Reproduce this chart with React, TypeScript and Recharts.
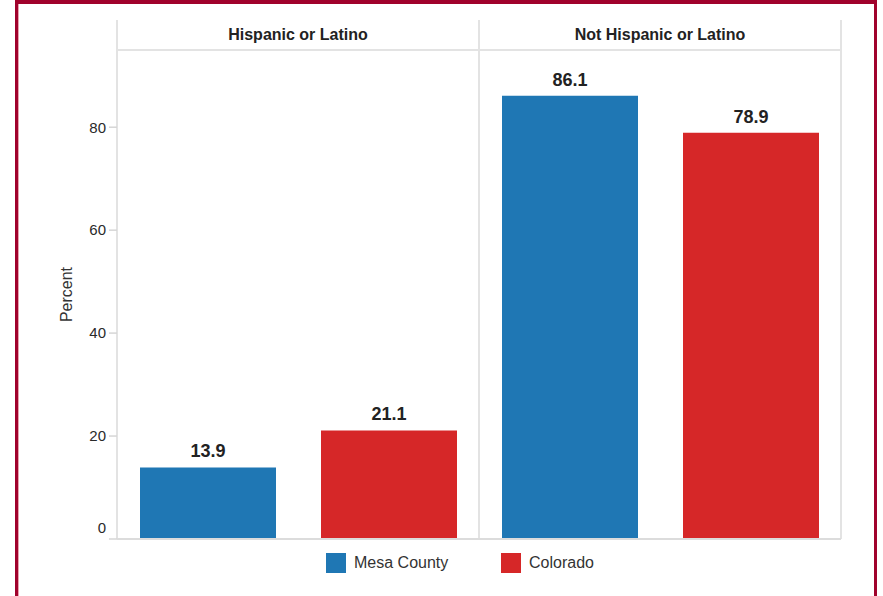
import React from 'react';
import * as R from 'recharts';

const { BarChart, Bar, XAxis, YAxis, LabelList, Legend } = R as any;

const categories = ['Hispanic or Latino', 'Not Hispanic or Latino'];
const mesaCounty = [13.9, 86.1];
const colorado = [21.1, 78.9];
const yTicks = [0, 20, 40, 60, 80];
const seriesNames = ['Mesa County', 'Colorado'];
const seriesColors = ['#1f77b4', '#d62728'];

const data = categories.map((c, i) => ({ category: c, mesa: mesaCounty[i], colorado: colorado[i] }));

const FONT = '"Liberation Sans", Arial, sans-serif';
const HEADER_H = 30;
const GRID = '#e3e3e3';

function Frame() {
  const usePA = (R as any).usePlotArea;
  const area = usePA ? usePA() : null;
  if (!area) return null;
  const top = area.y - HEADER_H;
  const bottom = area.y + area.height;
  const xs = [area.x, area.x + area.width / 2, area.x + area.width];
  return (
    <g>
      {xs.map((x, i) => (
        <line key={i} x1={x} x2={x} y1={top} y2={bottom} stroke={GRID} strokeWidth={2} />
      ))}
      <line x1={area.x} x2={area.x + area.width} y1={area.y} y2={area.y} stroke={GRID} strokeWidth={2} />
      <text
        x={area.x - 45}
        y={area.y + area.height / 2}
        transform={`rotate(-90, ${area.x - 45}, ${area.y + area.height / 2})`}
        textAnchor="middle"
        fontFamily={FONT}
        fontSize={16}
        fill="#333"
      >
        Percent
      </text>
    </g>
  );
}

function YTick(props: any) {
  const { x, y, payload } = props;
  const shift = payload.value === 0 ? -11 : 0;
  return (
    <text x={x} y={y + shift} dy="0.355em" textAnchor="end" fontFamily={FONT} fontSize={15} fill="#2a2a2a">
      {payload.value}
    </text>
  );
}

function HeaderTick(props: any) {
  const { x, y, payload } = props;
  return (
    <text x={x} y={y} textAnchor="middle" fontFamily={FONT} fontSize={16} fontWeight="bold" fill="#222">
      {payload.value}
    </text>
  );
}

function LegendContent() {
  return (
    <div style={{ display: 'flex', fontFamily: FONT, fontSize: 16, color: '#333' }}>
      {seriesNames.map((n, i) => (
        <div key={n} style={{ display: 'flex', alignItems: 'center', width: 175 }}>
          <div style={{ width: 20, height: 20, background: seriesColors[i], marginRight: 8 }} />
          <span>{n}</span>
        </div>
      ))}
    </div>
  );
}

export default function App() {
  return (
    <div style={{ position: 'absolute', left: 0, top: 0, width: 883, height: 596, overflow: 'hidden', background: '#fff' }}>
      <div
        style={{
          position: 'absolute',
          left: 15,
          top: -1,
          width: 856,
          height: 700,
          border: '4px solid #a0022c',
          borderTopWidth: 5,
          borderLeftWidth: 3,
          borderRightWidth: 3,
          boxShadow: 'inset 1px 0 0 #e9a0b0',
        }}
      />
      <div style={{ position: 'absolute', left: 0, top: 0 }}>
        <BarChart
          width={883}
          height={596}
          data={data}
          margin={{ top: 20, right: 42, left: 20, bottom: 47 }}
          barCategoryGap={23}
          barGap={45}
        >
          <Frame />
          <XAxis
            xAxisId="top"
            orientation="top"
            dataKey="category"
            height={HEADER_H}
            axisLine={false}
            tickLine={false}
            tickSize={0}
            tickMargin={10}
            tick={<HeaderTick />}
            interval={0}
          />
          <XAxis
            dataKey="category"
            height={10}
            tick={false}
            tickLine={false}
            axisLine={{ stroke: '#dcdcdc', strokeWidth: 2 }}
          />
          <YAxis
            width={97}
            domain={[0, 95]}
            ticks={yTicks}
            axisLine={false}
            tickLine={{ stroke: '#d6d6d6', strokeWidth: 1.5 }}
            tickSize={8}
            tickMargin={3}
            tick={<YTick />}
            interval={0}
          />
          <Legend
            layout="horizontal"
            verticalAlign="middle"
            align="center"
            wrapperStyle={{ left: 326, top: 553, width: 400 }}
            content={<LegendContent />}
          />
          <Bar dataKey="mesa" name={seriesNames[0]} fill={seriesColors[0]} isAnimationActive={false}>
            <LabelList dataKey="mesa" position="top" offset={10} fontFamily={FONT} fontSize={18} fontWeight="bold" fill="#222" />
          </Bar>
          <Bar dataKey="colorado" name={seriesNames[1]} fill={seriesColors[1]} isAnimationActive={false}>
            <LabelList dataKey="colorado" position="top" offset={10} fontFamily={FONT} fontSize={18} fontWeight="bold" fill="#222" />
          </Bar>
        </BarChart>
      </div>
    </div>
  );
}
